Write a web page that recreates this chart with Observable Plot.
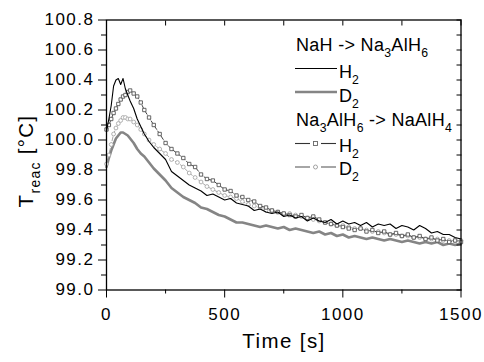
<!DOCTYPE html>
<html>
<head>
<meta charset="utf-8">
<script src="https://cdn.jsdelivr.net/npm/d3@7"></script>
<script src="https://cdn.jsdelivr.net/npm/@observablehq/plot@0.6"></script>
<style>
  html, body { margin: 0; padding: 0; background: white; }
</style>
</head>
<body>
<script>
// ---- data ----
const time = [0,10,20,30,40,50,60,70,80,90,100,115,130,145,160,180,200,
  225,250,275,300,325,350,375,400,425,450,475,500,
  525,550,575,600,625,650,675,700,725,750,775,800,
  825,850,875,900,925,950,975,1000,1025,1050,1075,1100,
  1125,1150,1175,1200,1225,1250,1275,1300,1325,1350,1375,1400,
  1425,1450,1475,1500];

// NaH -> Na3AlH6, H2 (black solid)
const nahH2 = [100.06,100.14,100.23,100.36,100.40,100.41,100.37,100.41,100.34,100.30,100.26,100.21,100.14,100.09,100.04,99.99,99.95,
  99.91,99.87,99.79,99.76,99.73,99.70,99.68,99.66,99.63,99.64,99.62,99.60,
  99.61,99.58,99.57,99.56,99.53,99.54,99.52,99.51,99.52,99.49,99.50,99.48,
  99.49,99.46,99.48,99.46,99.45,99.47,99.44,99.46,99.44,99.45,99.43,99.45,
  99.42,99.44,99.43,99.44,99.41,99.43,99.42,99.40,99.43,99.41,99.38,99.39,
  99.37,99.37,99.35,99.34];

// NaH -> Na3AlH6, D2 (gray thick solid)
const nahD2 = [99.82,99.88,99.93,99.97,100.01,100.03,100.05,100.05,100.04,100.03,100.01,99.98,99.94,99.91,99.89,99.85,99.81,
  99.77,99.73,99.68,99.65,99.62,99.60,99.58,99.55,99.54,99.52,99.50,99.49,
  99.47,99.45,99.45,99.44,99.43,99.42,99.43,99.42,99.41,99.42,99.40,99.41,
  99.40,99.39,99.38,99.39,99.37,99.38,99.36,99.37,99.35,99.36,99.35,99.34,
  99.35,99.34,99.33,99.34,99.33,99.32,99.33,99.32,99.31,99.32,99.31,99.32,
  99.30,99.31,99.30,99.31];

// Na3AlH6 -> NaAlH4, H2 (dashed, squares)
const alhH2 = [100.07,100.10,100.14,100.18,100.21,100.24,100.27,100.29,100.30,100.32,100.33,100.31,100.29,100.25,100.20,100.15,100.10,
  100.04,99.98,99.94,99.91,99.88,99.84,99.82,99.77,99.74,99.73,99.70,99.67,
  99.66,99.63,99.62,99.60,99.59,99.56,99.55,99.53,99.52,99.51,99.50,99.49,
  99.50,99.48,99.49,99.47,99.45,99.44,99.43,99.42,99.41,99.40,99.41,99.39,
  99.40,99.38,99.39,99.37,99.38,99.36,99.37,99.35,99.36,99.34,99.35,99.33,
  99.34,99.32,99.33,99.32];

// Na3AlH6 -> NaAlH4, D2 (dashed, circles)
const alhD2 = [99.84,99.90,99.97,100.04,100.08,100.11,100.13,100.15,100.15,100.14,100.14,100.12,100.10,100.07,100.04,100.00,99.97,
  99.94,99.91,99.87,99.85,99.82,99.78,99.75,99.72,99.69,99.67,99.65,99.63,
  99.62,99.61,99.59,99.57,99.56,99.55,99.53,99.53,99.52,99.51,99.51,99.50,
  99.49,99.48,99.47,99.46,99.45,99.44,99.43,99.43,99.42,99.41,99.41,99.40,
  99.39,99.39,99.38,99.37,99.37,99.36,99.36,99.35,99.35,99.34,99.34,99.34,
  99.33,99.33,99.33,99.33];

const xMajor = [0, 500, 1000, 1500];
const xMinor = [250, 750, 1250];
const yMajor = [99.0, 99.2, 99.4, 99.6, 99.8, 100.0, 100.2, 100.4, 100.6, 100.8];
const yMinor = [99.1, 99.3, 99.5, 99.7, 99.9, 100.1, 100.3, 100.5, 100.7];

const rows = arr => time.map((t, i) => ({t, v: arr[i]}));
const dNahH2 = rows(nahH2), dNahD2 = rows(nahD2), dAlhH2 = rows(alhH2), dAlhD2 = rows(alhD2);

const blank = () => "";
const font = "'Liberation Sans', Arial, Helvetica, sans-serif";

const chart = Plot.plot({
  width: 484,
  height: 362,
  marginLeft: 106,
  marginRight: 23.5,
  marginTop: 19.5,
  marginBottom: 72.5,
  x: {domain: [0, 1500], label: null},
  y: {domain: [99.0, 100.8], label: null},
  style: {fontFamily: font, fontSize: "17px", color: "black", background: "white"},
  marks: [
    // series
    Plot.line(dNahD2, {x: "t", y: "v", stroke: "#858585", strokeWidth: 2.6}),
    Plot.line(dAlhD2, {x: "t", y: "v", stroke: "#a8a8a8", strokeWidth: 1, strokeDasharray: "4,2"}),
    Plot.dot(dAlhD2, {x: "t", y: "v", symbol: "circle", r: 1.9, stroke: "#a8a8a8", strokeWidth: 0.9, fill: "white"}),
    Plot.line(dAlhH2, {x: "t", y: "v", stroke: "#444", strokeWidth: 1, strokeDasharray: "4,2"}),
    Plot.dot(dAlhH2, {x: "t", y: "v", symbol: "square", r: 1.9, stroke: "#555", strokeWidth: 0.9, fill: "white"}),
    Plot.line(dNahH2, {x: "t", y: "v", stroke: "black", strokeWidth: 1.1}),
    // frame and axes
    Plot.frame({stroke: "black", strokeWidth: 1.3}),
    Plot.axisX({ticks: xMajor, tickSize: 8, tickPadding: 10, tickFormat: d => String(d)}),
    Plot.axisX({ticks: xMinor, tickSize: 4, tickFormat: blank}),
    Plot.axisY({ticks: yMajor, tickSize: 8, tickPadding: 4, tickFormat: d => d.toFixed(1)}),
    Plot.axisY({ticks: yMinor, tickSize: 5, tickFormat: blank}),
    Plot.axisX({anchor: "top", ticks: xMajor.concat(xMinor), tickSize: 5, dy: 5, tickFormat: blank}),
    Plot.axisY({anchor: "right", ticks: yMajor.concat(yMinor), tickSize: 5, dx: -5, tickFormat: blank})
  ]
});
document.body.appendChild(chart);

const svg = d3.select(chart);
svg.selectAll('g[aria-label="x-axis tick label"] text, g[aria-label="y-axis tick label"] text')
  .attr("letter-spacing", "1.5");

// text with subscripts
function richText(g, x, y, parts, size, extra) {
  const t = g.append("text").attr("x", x).attr("y", y)
    .attr("text-anchor", "start")
    .attr("font-family", font).attr("font-size", size).attr("fill", "black");
  if (extra) extra(t);
  let shifted = false;
  for (const [s, sub] of parts) {
    const ts = t.append("tspan").text(s);
    if (sub && !shifted) { ts.attr("dy", size * 0.35).attr("font-size", size * 0.68); shifted = true; }
    else if (sub) { ts.attr("font-size", size * 0.68); }
    else if (!sub && shifted) { ts.attr("dy", -size * 0.35); shifted = false; }
  }
  return t;
}

// axis titles
richText(svg, 284, 348, [["Time [s]", false]], 20.5, t => t.attr("text-anchor", "middle").attr("letter-spacing", "1.4"));
richText(svg, 0, 0, [["T", false], ["reac", true], [" [°C]", false]], 20.5,
  t => t.attr("text-anchor", "middle").attr("letter-spacing", "1.3").attr("transform", "translate(33,161) rotate(-90)"));

// legend
const lg = svg.append("g");
const lfs = 18;
const lsp = t => t.attr("letter-spacing", "0.3");
richText(lg, 296, 50.5, [["NaH -> Na", false], ["3", true], ["AlH", false], ["6", true]], lfs, lsp);
lg.append("line").attr("x1", 295).attr("x2", 337).attr("y1", 68.5).attr("y2", 68.5).attr("stroke", "black").attr("stroke-width", 1.1);
richText(lg, 339, 78, [["H", false], ["2", true]], lfs);
lg.append("line").attr("x1", 295).attr("x2", 337).attr("y1", 92).attr("y2", 92).attr("stroke", "#858585").attr("stroke-width", 2.6);
richText(lg, 339, 101.5, [["D", false], ["2", true]], lfs);
richText(lg, 296, 126, [["Na", false], ["3", true], ["AlH", false], ["6", true], [" -> NaAlH", false], ["4", true]], lfs, lsp);
// squares entry
lg.append("line").attr("x1", 295).attr("x2", 310).attr("y1", 143.5).attr("y2", 143.5).attr("stroke", "#333").attr("stroke-width", 1.1);
lg.append("line").attr("x1", 321).attr("x2", 336).attr("y1", 143.5).attr("y2", 143.5).attr("stroke", "#333").attr("stroke-width", 1.1);
lg.append("rect").attr("x", 313.5).attr("y", 141.5).attr("width", 4).attr("height", 4).attr("fill", "white").attr("stroke", "#666").attr("stroke-width", 0.9);
richText(lg, 339, 151.5, [["H", false], ["2", true]], lfs);
// circles entry
lg.append("line").attr("x1", 295).attr("x2", 310).attr("y1", 167).attr("y2", 167).attr("stroke", "#888").attr("stroke-width", 1.5);
lg.append("line").attr("x1", 321).attr("x2", 336).attr("y1", 167).attr("y2", 167).attr("stroke", "#888").attr("stroke-width", 1.5);
lg.append("circle").attr("cx", 315.5).attr("cy", 167).attr("r", 2).attr("fill", "white").attr("stroke", "#999").attr("stroke-width", 0.9);
richText(lg, 339, 175, [["D", false], ["2", true]], lfs);
</script>
</body>
</html>
